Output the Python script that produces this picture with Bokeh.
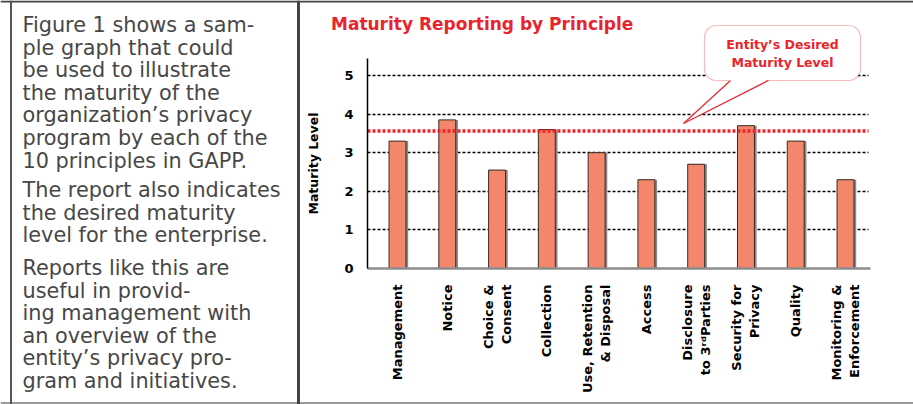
import math
from bokeh.plotting import figure
from bokeh.models import (Range1d, FixedTicker, Span, Label, BoxAnnotation,
                          PolyAnnotation, Arrow, ColumnDataSource, LinearAxis, Grid)
from bokeh.transform import dodge
from bokeh.core.properties import value
from bokeh.embed import file_html
from bokeh.resources import INLINE

# ---------------- data ----------------
principles = ["Management", "Notice", "Choice &\nConsent", "Collection",
              "Use, Retention\n& Disposal", "Access", "Disclosure\nto 3\u02b3\u1d48Parties",
              "Security for\nPrivacy", "Quality", "Monitoring &\nEnforcement"]
maturity = [3.3, 3.85, 2.55, 3.6, 3.0, 2.3, 2.7, 3.7, 3.3, 2.3]
desired_level = 3.56
y_ticks = [0, 1, 2, 3, 4, 5]
grid_ticks = [1, 2, 3, 4, 5]
title_text = "Maturity Reporting by Principle"
y_label = "Maturity Level"
callout_lines = ["Entity\u2019s Desired", "Maturity Level"]

para1 = ["Figure 1 shows a sam-", "ple graph that could", "be used to illustrate",
         "the maturity of the", "organization\u2019s privacy", "program by each of the",
         "10 principles in GAPP."]
para2 = ["The report also indicates", "the desired maturity", "level for the enterprise."]
para3 = ["Reports like this are", "useful in provid-", "ing management with",
         "an overview of the", "entity\u2019s privacy pro-", "gram and initiatives."]

# ---------------- styles / layout ----------------
RED = "#e8242c"
BAR = "#f4876b"
FONT = "DejaVu Sans"
W, H = 913, 404
BAR0_PX, BAR_STEP_PX = 397.0, 49.78   # page px of first category centre, px per category
BASE_PX, UNIT_PX = 268.0, 38.6        # page px of value 0, px per maturity unit

def X(px):
    return (px - BAR0_PX) / BAR_STEP_PX

def Y(py):
    return (BASE_PX - py) / UNIT_PX

p = figure(width=W, height=H, x_range=Range1d(X(0), X(W)), y_range=Range1d(Y(H), Y(0)),
           x_axis_location=None, y_axis_location=None, toolbar_location=None,
           output_backend="svg", min_border=0)
p.outline_line_color = None
p.grid.visible = False
p.background_fill_color = "white"
p.border_fill_color = "white"

AX_LO, AX_HI = X(367), X(870)

# ---------------- frame of the page ----------------
p.add_layout(Span(location=Y(1), dimension="width", line_color="#444444", line_width=2))
p.add_layout(Span(location=Y(402.5), dimension="width", line_color="#9a9a9a", line_width=2))
p.add_layout(Span(location=X(10.5), dimension="height", line_color="#555555", line_width=2))
p.add_layout(Span(location=X(298), dimension="height", line_color="#444444", line_width=3))

# ---------------- left text ----------------
line_step = 22.6
starts = [24.5, 189.5, 267.5]
xs, ys, txt = [], [], []
for start, para in zip(starts, [para1, para2, para3]):
    for i, t in enumerate(para):
        xs.append(X(22))
        ys.append(Y(start + i * line_step))
        txt.append(t)
p.text(x=xs, y=ys, text=txt, text_font=value(FONT), text_font_size="20.8px",
       text_color="#474747", text_baseline="middle", text_align="left")

# ---------------- title ----------------
p.text(x=[X(330.5)], y=[Y(23)], text=[title_text], text_font=value(FONT),
       text_font_style="bold", text_font_size="17px", text_color=RED,
       text_baseline="middle", text_align="left")

# ---------------- grid ----------------
grid = Grid(dimension=1, ticker=FixedTicker(ticks=grid_ticks), grid_line_color="black",
            grid_line_dash="3 2", grid_line_width=1.5)
try:
    grid.cross_bounds = (AX_LO, X(868))
    p.add_layout(grid)
except Exception:
    p.segment(x0=AX_LO, x1=X(868), y0=grid_ticks, y1=grid_ticks, line_color="black",
              line_dash="3 2", line_width=1.5)

# ---------------- bars ----------------
src = ColumnDataSource(dict(x=list(range(len(principles))), top=maturity))
p.vbar(x=dodge("x", 0.045), top="top", width=0.34, source=src, fill_color="#8a8a8a",
       line_color=None)
p.vbar(x="x", top="top", width=0.34, source=src, fill_color=BAR, line_color="#3a2a24",
       line_width=1)

# desired level
p.segment(x0=[AX_LO], x1=[X(868)], y0=[desired_level], y1=[desired_level],
          line_color=RED, line_width=3.5, line_dash="3 2")

# ---------------- axes ----------------
xa = LinearAxis(fixed_location=0, bounds=(AX_LO, AX_HI))
xa.ticker = FixedTicker(ticks=list(range(len(principles))))
xa.major_label_overrides = {i: n for i, n in enumerate(principles)}
xa.major_label_orientation = math.pi / 2
xa.major_tick_line_color = None
xa.minor_tick_line_color = None
xa.axis_line_color = "#8c8c8c"
xa.axis_line_width = 2.5
xa.major_label_text_font = FONT
xa.major_label_text_font_style = "bold"
xa.major_label_text_font_size = "13px"
xa.major_label_text_color = "black"
xa.major_label_text_align = "left"
xa.major_label_standoff = 10
p.add_layout(xa, "below")

ya = LinearAxis(fixed_location=AX_LO, bounds=(0, Y(58)))
ya.ticker = FixedTicker(ticks=y_ticks)
ya.axis_line_color = "black"
ya.axis_line_width = 1.5
ya.major_tick_line_color = None
ya.minor_tick_line_color = None
ya.major_label_text_font = FONT
ya.major_label_text_font_style = "bold"
ya.major_label_text_font_size = "13px"
ya.major_label_text_color = "black"
ya.major_label_standoff = 8
ya.axis_label = y_label
ya.axis_label_text_font = FONT
ya.axis_label_text_font_style = "bold"
ya.axis_label_text_font_size = "12.5px"
ya.axis_label_text_color = "black"
ya.axis_label_standoff = 20
p.add_layout(ya, "left")

# ---------------- callout ----------------
p.add_layout(BoxAnnotation(left=X(704), right=X(860), top=Y(25), bottom=Y(80),
                           fill_color="white", fill_alpha=1, line_color=RED,
                           line_width=1.2, border_radius=12))
p.add_layout(PolyAnnotation(xs=[X(730.5), X(683), X(767.5)], ys=[Y(78.5), Y(123), Y(78.5)],
                            fill_color="white", fill_alpha=1, line_color=None))
p.add_layout(Arrow(start=None, end=None, x_start=X(730), y_start=Y(80), x_end=X(683),
                   y_end=Y(123), line_color=RED, line_width=1.2))
p.add_layout(Arrow(start=None, end=None, x_start=X(768), y_start=Y(80), x_end=X(683),
                   y_end=Y(123), line_color=RED, line_width=1.2))
for t, py in zip(callout_lines, [44, 62]):
    p.add_layout(Label(x=X(782), y=Y(py), text=t, text_font=FONT, text_font_style="bold",
                       text_font_size="12.5px", text_color=RED, text_align="center",
                       text_baseline="middle"))

open("out.html", "w").write(file_html(p, INLINE))
